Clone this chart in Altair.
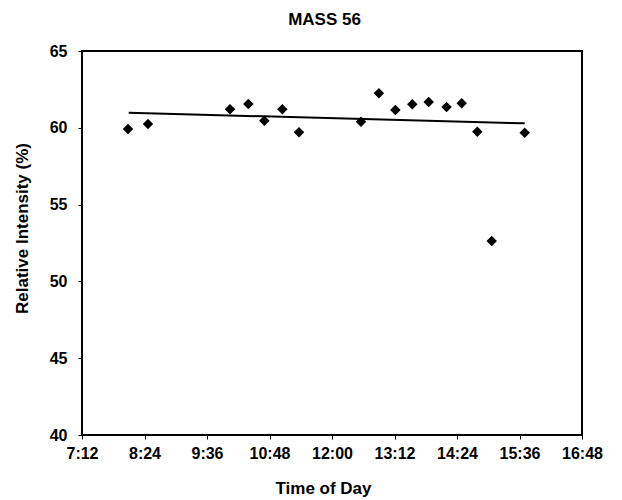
import altair as alt
import pandas as pd

# Time of day in minutes after midnight
times = [485, 508, 602.5, 623.6, 642, 662.8, 682, 753.4, 774, 793, 812.5,
         831.4, 852, 869.4, 887.4, 904, 942]
intensity = [59.92, 60.25, 61.20, 61.55, 60.46, 61.20, 59.71, 60.40, 62.25,
             61.16, 61.53, 61.68, 61.35, 61.60, 59.75, 52.63, 59.68]

# Trend line end points
trend_times = [485.8, 942]
trend_values = [60.98, 60.29]

x_ticks = [432, 504, 576, 648, 720, 792, 864, 936, 1008]
y_ticks = [40, 45, 50, 55, 60, 65]

FONT = "Liberation Sans"

pts = pd.DataFrame({"t": times, "v": intensity})
trend = pd.DataFrame({"t": trend_times, "v": trend_values})

x_scale = alt.Scale(domain=[432, 1008], nice=False, zero=False)
y_scale = alt.Scale(domain=[40, 65], nice=False, zero=False)

x_axis = alt.Axis(
    title="Time of Day",
    values=x_ticks,
    labelExpr="floor(datum.value/60) + ':' + (datum.value % 60 < 10 ? '0' : '') + (datum.value % 60)",
    grid=False, domain=False, tickColor="black", tickSize=4,
    labelFont=FONT, labelFontWeight="bold", labelFontSize=16, labelColor="black",
    labelPadding=6, labelOverlap=False, labelFlush=False,
    titleFont=FONT, titleFontWeight="bold", titleFontSize=17, titleColor="black",
    titleX=241, titleY=58, titleBaseline="alphabetic", titleAlign="center",
)
y_axis = alt.Axis(
    title="Relative Intensity (%)",
    values=y_ticks,
    grid=False, domain=False, tickColor="black", tickSize=4,
    labelFont=FONT, labelFontWeight="bold", labelFontSize=16, labelColor="black",
    labelPadding=11, labelOverlap=False, labelFlush=False,
    titleFont=FONT, titleFontWeight="bold", titleFontSize=17, titleColor="black",
    titleX=-55, titleY=177, titleAngle=-90, titleBaseline="alphabetic", titleAlign="center",
)

points = alt.Chart(pts).mark_point(
    shape="diamond", filled=True, size=110, color="black", opacity=1
).encode(
    x=alt.X("t:Q", scale=x_scale, axis=x_axis),
    y=alt.Y("v:Q", scale=y_scale, axis=y_axis),
)

line = alt.Chart(trend).mark_line(color="black", strokeWidth=2).encode(
    x=alt.X("t:Q", scale=x_scale),
    y=alt.Y("v:Q", scale=y_scale),
)

chart = alt.layer(line, points).properties(
    width=500,
    height=384,
    background="white",
    title=alt.TitleParams(
        "MASS 56", font=FONT, fontWeight="bold", fontSize=17, color="black",
        dx=-7.5, offset=14, anchor="middle",
    ),
    autosize=alt.AutoSizeParams(type="none"),
    padding={"left": 74, "top": 43, "right": 32, "bottom": 63},
).configure_view(
    stroke="black", strokeWidth=2
)

chart.save("out.html", embed_options={"renderer": "svg", "actions": False})
